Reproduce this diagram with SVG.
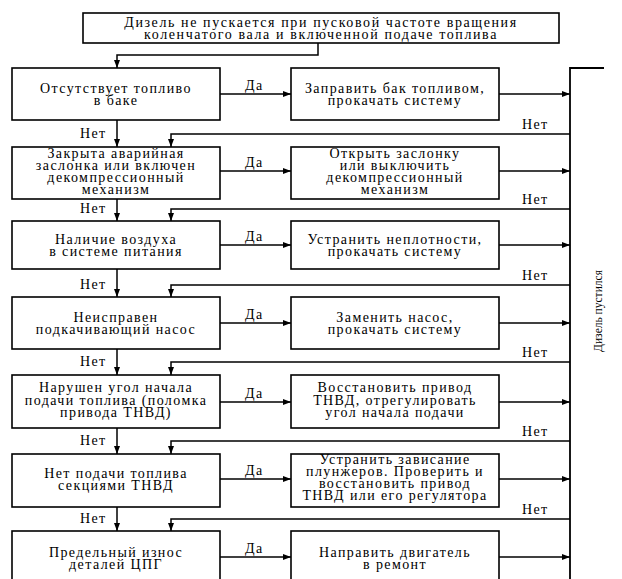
<svg xmlns="http://www.w3.org/2000/svg" width="622" height="579" viewBox="0 0 622 579">
<defs>
<marker id="ah" markerWidth="8" markerHeight="6" refX="8" refY="3" orient="auto" markerUnits="userSpaceOnUse">
<path d="M0,0 L8,3 L0,6 z" fill="#000"/>
</marker>
<style>
.box{fill:#fff;stroke:#000;stroke-width:1.6}
.ln{fill:none;stroke:#000;stroke-width:1.5}
.ar{fill:none;stroke:#000;stroke-width:1.5;marker-end:url(#ah)}
text{font-family:"Liberation Serif","DejaVu Serif",serif;font-size:14px;letter-spacing:1.4px;fill:#000}
.c{text-anchor:middle}
.v{font-size:11.5px;letter-spacing:0}
</style>
</defs>
<rect width="622" height="579" fill="#fff"/>

<g id="connectors">
<path class="ar" d="M318,43 V55 H117 V68"/>
<path class="ar" d="M117,120 V147"/>
<path class="ar" d="M117,199 V221"/>
<path class="ar" d="M117,269 V297"/>
<path class="ar" d="M117,349 V375"/>
<path class="ar" d="M117,428 V454"/>
<path class="ar" d="M117,507 V531"/>
<path class="ar" d="M220,94 H291"/>
<path class="ar" d="M220,171 H291"/>
<path class="ar" d="M220,245 H291"/>
<path class="ar" d="M220,323 H291"/>
<path class="ar" d="M220,402 H291"/>
<path class="ar" d="M220,479 H291"/>
<path class="ar" d="M220,557 H291"/>
<path class="ar" d="M499,94 H570"/>
<path class="ar" d="M499,171 H570"/>
<path class="ar" d="M499,245 H570"/>
<path class="ar" d="M499,323 H570"/>
<path class="ar" d="M499,402 H570"/>
<path class="ar" d="M499,479 H570"/>
<path class="ar" d="M499,557 H570"/>
<path class="ln" d="M604,68 H570 V579" style="stroke-width:1.8"/>
<path class="ar" d="M570,134 H171 V147"/>
<path class="ar" d="M570,209 H171 V221"/>
<path class="ar" d="M570,285 H171 V297"/>
<path class="ar" d="M570,362 H171 V375"/>
<path class="ar" d="M570,441 H171 V454"/>
<path class="ar" d="M570,519 H171 V531"/>
<text x="245" y="90">Да</text>
<text x="245" y="167">Да</text>
<text x="245" y="241">Да</text>
<text x="245" y="319">Да</text>
<text x="245" y="398">Да</text>
<text x="245" y="475">Да</text>
<text x="245" y="553">Да</text>
<text x="80" y="138">Нет</text>
<text x="80" y="213">Нет</text>
<text x="80" y="289">Нет</text>
<text x="80" y="366">Нет</text>
<text x="80" y="445">Нет</text>
<text x="80" y="523">Нет</text>
<text x="522" y="129">Нет</text>
<text x="522" y="204">Нет</text>
<text x="522" y="280">Нет</text>
<text x="522" y="357">Нет</text>
<text x="522" y="436">Нет</text>
<text x="522" y="514">Нет</text>
<text class="v c" transform="translate(602,311) rotate(-90)">Дизель пустился</text>
</g>

<g id="start">
<rect class="box" x="83" y="13" width="476" height="30"/>
<text class="c" x="321" y="27" style="letter-spacing:1.6px">Дизель не пускается при пусковой частоте вращения</text>
<text class="c" x="321" y="39" style="letter-spacing:1.6px">коленчатого вала и включенной подаче топлива</text>
</g>

<g id="q1">
<rect class="box" x="12" y="68" width="208" height="52"/>
<text class="c" x="116" y="93">Отсутствует топливо</text>
<text class="c" x="116" y="105">в баке</text>
</g>
<g id="a1">
<rect class="box" x="291" y="68" width="208" height="52"/>
<text class="c" x="395" y="93">Заправить бак топливом,</text>
<text class="c" x="395" y="105">прокачать систему</text>
</g>

<g id="q2">
<rect class="box" x="12" y="147" width="208" height="52"/>
<text class="c" x="116" y="158">Закрыта аварийная</text>
<text class="c" x="116" y="170">заслонка или включен</text>
<text class="c" x="116" y="182">декомпрессионный</text>
<text class="c" x="116" y="194">механизм</text>
</g>
<g id="a2">
<rect class="box" x="291" y="147" width="208" height="52"/>
<text class="c" x="395" y="158">Открыть заслонку</text>
<text class="c" x="395" y="170">или выключить</text>
<text class="c" x="395" y="182">декомпрессионный</text>
<text class="c" x="395" y="194">механизм</text>
</g>

<g id="q3">
<rect class="box" x="12" y="221" width="208" height="48"/>
<text class="c" x="116" y="244">Наличие воздуха</text>
<text class="c" x="116" y="256">в системе питания</text>
</g>
<g id="a3">
<rect class="box" x="291" y="221" width="208" height="48"/>
<text class="c" x="395" y="244">Устранить неплотности,</text>
<text class="c" x="395" y="256">прокачать систему</text>
</g>

<g id="q4">
<rect class="box" x="12" y="297" width="208" height="52"/>
<text class="c" x="116" y="322">Неисправен</text>
<text class="c" x="116" y="334">подкачивающий насос</text>
</g>
<g id="a4">
<rect class="box" x="291" y="297" width="208" height="52"/>
<text class="c" x="395" y="322">Заменить насос,</text>
<text class="c" x="395" y="334">прокачать систему</text>
</g>

<g id="q5">
<rect class="box" x="12" y="375" width="208" height="53"/>
<text class="c" x="116" y="392">Нарушен угол  начала</text>
<text class="c" x="116" y="404.5">подачи топлива (поломка</text>
<text class="c" x="116" y="417">привода ТНВД)</text>
</g>
<g id="a5">
<rect class="box" x="291" y="375" width="208" height="53"/>
<text class="c" x="395" y="392">Восстановить привод</text>
<text class="c" x="395" y="404.5">ТНВД, отрегулировать</text>
<text class="c" x="395" y="417">угол  начала подачи</text>
</g>

<g id="q6">
<rect class="box" x="12" y="454" width="208" height="53"/>
<text class="c" x="116" y="478">Нет подачи топлива</text>
<text class="c" x="116" y="490">секциями ТНВД</text>
</g>
<g id="a6">
<rect class="box" x="291" y="454" width="208" height="53"/>
<text class="c" x="395" y="464">Устранить зависание</text>
<text class="c" x="395" y="476">плунжеров.  Проверить и</text>
<text class="c" x="395" y="488">восстановить привод</text>
<text class="c" x="395" y="500">ТНВД или его регулятора</text>
</g>

<g id="q7">
<rect class="box" x="12" y="531" width="208" height="70"/>
<text class="c" x="116" y="557">Предельный износ</text>
<text class="c" x="116" y="569">деталей ЦПГ</text>
</g>
<g id="a7">
<rect class="box" x="291" y="531" width="208" height="70"/>
<text class="c" x="395" y="557">Направить двигатель</text>
<text class="c" x="395" y="569">в ремонт</text>
</g>
</svg>
